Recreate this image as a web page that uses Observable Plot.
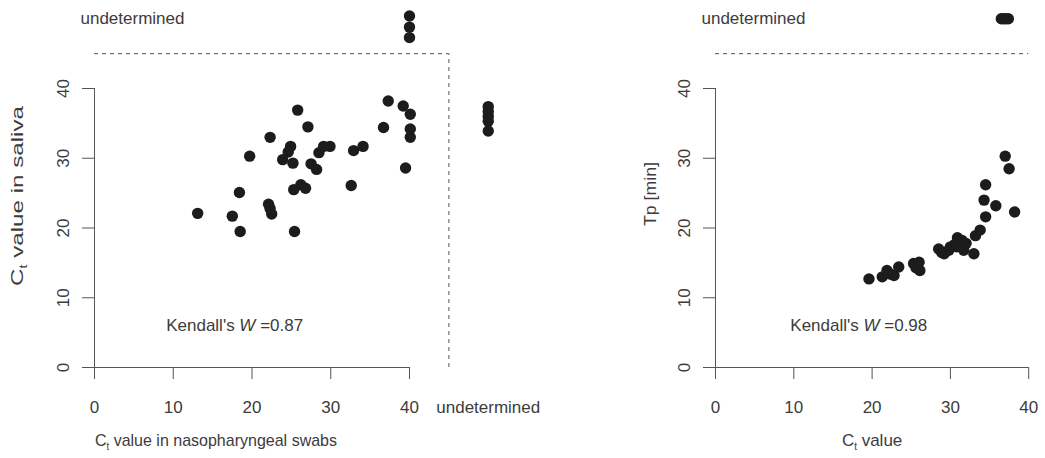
<!DOCTYPE html>
<html><head><meta charset="utf-8">
<script src="https://cdn.jsdelivr.net/npm/d3@7"></script>
<script src="https://cdn.jsdelivr.net/npm/@observablehq/plot@0.6"></script>
<style>
body{margin:0;background:#fff;}
#wrap{display:flex;width:1045px;height:458px;overflow:hidden;}
</style></head><body><div id="wrap"></div>
<script>
// ---- data ----
const axisTicks = [0, 10, 20, 30, 40];
const cutoff = 45;            // dashed separator between measured and "undetermined"
const undetermined = 50;      // value used to plot undetermined results

// Left panel: Ct in nasopharyngeal swabs (x) vs Ct in saliva (y)
const swabCt = [25.8,37.3,39.2,40.1,36.7,40.1,40.1,27.1,22.3,24.9,24.6,23.9,25.2,19.7,29.1,29.9,28.5,32.9,34.1,27.5,28.2,39.5,32.6,25.3,26.2,26.8,18.4,22.1,22.3,22.5,13.1,17.5,18.5,25.4];
const salivaCt = [36.9,38.2,37.5,36.3,34.4,34.2,33.0,34.5,33.0,31.7,30.9,29.8,29.3,30.3,31.7,31.7,30.8,31.1,31.7,29.2,28.4,28.6,26.1,25.5,26.2,25.7,25.1,23.4,22.8,22.0,22.1,21.7,19.5,19.5];
// saliva undetermined (swab Ct measured)
const swabOnlyX = [40, 40, 40];
const swabOnlyY = [47.3, 48.8, 50.4];
// swab undetermined (saliva Ct measured)
const salivaOnlyX = [50, 50, 50, 50, 50];
const salivaOnlyY = [37.4, 36.7, 36.0, 35.3, 33.9];

// Right panel: Ct value (x) vs Tp [min] (y)
const ctValue = [19.6,21.3,21.9,22.3,22.8,23.4,25.3,25.6,26.0,26.1,28.5,28.9,29.2,29.8,30.0,30.5,30.8,30.9,31.2,31.5,31.7,32.0,33.0,33.2,33.8,34.5,34.3,34.5,35.8,37.0,37.5,38.2];
const tpMin   = [12.7,13.0,13.9,13.4,13.2,14.4,14.9,14.3,15.1,13.9,17.0,16.5,16.3,16.8,17.3,17.6,17.3,18.6,17.9,18.2,16.8,17.8,16.3,18.9,19.7,21.6,24.0,26.2,23.2,30.3,28.5,22.3];
// Tp undetermined
const tpUndetX = [36.5, 36.8, 37.1, 37.4];

const kendallLeft = "Kendall's W =0.87";
const kendallRight = "Kendall's W =0.98";

// ---- helpers ----
const pts = (xs, ys) => xs.map((x, i) => ({x, y: ys[i]}));
const FONT = "'Liberation Sans', Arial, Helvetica, sans-serif";
const TXT = "#3c3c3c", AX = "#555", DOT = "#1c1c1c";

function commonMarks() {
  return [
    Plot.ruleY([0], {x1: 0, x2: 40, stroke: AX}),
    Plot.ruleX([0], {y1: 0, y2: 40, stroke: AX}),
    Plot.axisX({ticks: axisTicks, tickSize: 12, tickPadding: 21, label: null, stroke: AX, fill: TXT}),
    Plot.axisY({ticks: axisTicks, tickSize: 12, tickPadding: 14, tickRotate: -90, label: null, stroke: AX, fill: TXT}),
    Plot.text(["undetermined"], {x: 0, y: undetermined, textAnchor: "start", dx: -14, fill: TXT})
  ];
}

function decorate(svg) {
  d3.select(svg).selectAll("text").each(function() {
    const t = this.textContent;
    const el = d3.select(this);
    if (t.startsWith("Ct ")) {
      el.text(null);
      el.append("tspan").text("C");
      el.append("tspan").attr("font-size", "10px").attr("dy", "4").text("t");
      el.append("tspan").attr("dy", "-4").text(t.slice(2));
      if (t === "Ct value in saliva") el.attr("textLength", 180).attr("lengthAdjust", "spacingAndGlyphs");
      if (t === "Ct value in nasopharyngeal swabs") el.attr("textLength", 242).attr("lengthAdjust", "spacingAndGlyphs");
    } else if (t.startsWith("Kendall")) {
      const i = t.indexOf("W");
      el.text(null);
      el.append("tspan").text(t.slice(0, i));
      el.append("tspan").attr("font-style", "italic").text("W");
      el.append("tspan").text(t.slice(i + 1));
    } else if (t === "Tp [min]") {
      el.attr("textLength", 64).attr("lengthAdjust", "spacingAndGlyphs");
    }
  });
  return svg;
}

const style = {fontFamily: FONT, fontSize: "17px", color: AX, background: "#fff", overflow: "visible"};

const left = Plot.plot({
  width: 560, height: 458,
  marginLeft: 94, marginRight: 151, marginTop: 88, marginBottom: 91,
  x: {domain: [0, 40]}, y: {domain: [0, 40]},
  style,
  marks: [
    ...commonMarks(),
    Plot.ruleY([cutoff], {x1: 0, x2: cutoff, stroke: AX, strokeDasharray: "4,4"}),
    Plot.ruleX([cutoff], {y1: 0, y2: cutoff, stroke: AX, strokeDasharray: "4,4"}),
    Plot.text(["undetermined"], {x: undetermined, y: 0, dy: 40, fill: TXT}),
    Plot.text(["Ct value in nasopharyngeal swabs"], {frameAnchor: "bottom", textAnchor: "middle", lineAnchor: "middle", dx: -36, dy: 73, fill: TXT}),
    Plot.text(["Ct value in saliva"], {frameAnchor: "left", textAnchor: "middle", lineAnchor: "middle", rotate: -90, dx: -77, dy: -32, fill: TXT}),
    Plot.text([kendallLeft], {x: 17.8, y: 6, fill: TXT}),
    Plot.dot(pts(swabCt, salivaCt), {x: "x", y: "y", r: 5.7, fill: DOT}),
    Plot.dot(pts(swabOnlyX, swabOnlyY), {x: "x", y: "y", r: 5.7, fill: DOT}),
    Plot.dot(pts(salivaOnlyX, salivaOnlyY), {x: "x", y: "y", r: 5.7, fill: DOT})
  ]
});

const right = Plot.plot({
  width: 485, height: 458,
  marginLeft: 155, marginRight: 16.8, marginTop: 88, marginBottom: 91,
  x: {domain: [0, 40]}, y: {domain: [0, 40]},
  style,
  marks: [
    ...commonMarks(),
    Plot.ruleY([cutoff], {x1: 0, x2: 40, stroke: AX, strokeDasharray: "4,4"}),
    Plot.text(["Ct value"], {frameAnchor: "bottom", textAnchor: "middle", lineAnchor: "middle", dy: 73, fill: TXT}),
    Plot.text(["Tp [min]"], {frameAnchor: "left", textAnchor: "middle", lineAnchor: "middle", rotate: -90, dx: -65, dy: -34, fill: TXT}),
    Plot.text([kendallRight], {x: 18.3, y: 6, fill: TXT}),
    Plot.dot(pts(ctValue, tpMin), {x: "x", y: "y", r: 5.7, fill: DOT}),
    Plot.dot(tpUndetX.map(x => ({x, y: undetermined})), {x: "x", y: "y", r: 5.7, fill: DOT})
  ]
});

document.getElementById("wrap").append(decorate(left), decorate(right));
</script></body></html>
